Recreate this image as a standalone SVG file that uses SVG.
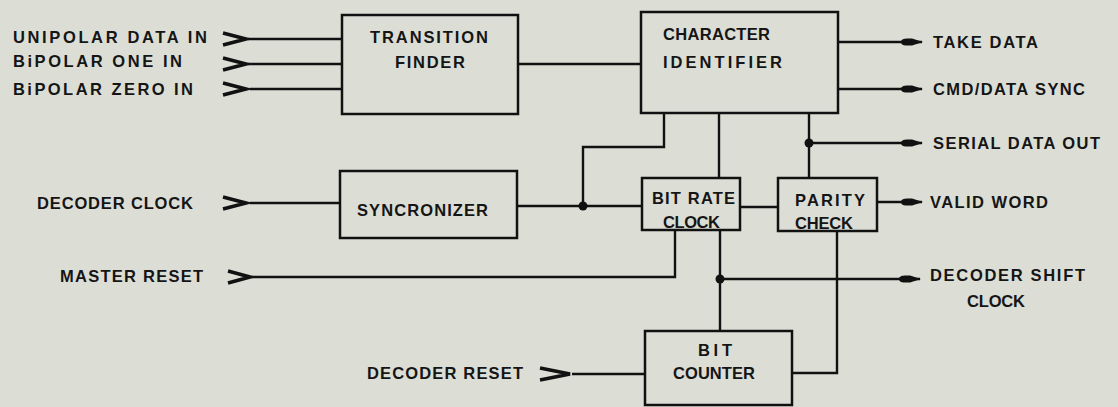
<svg xmlns="http://www.w3.org/2000/svg" width="1118" height="407" viewBox="0 0 1118 407">
<defs>
<style>
.bg{fill:#dcded6}
.box{fill:none;stroke:#111;stroke-width:2.5}
.ln{fill:none;stroke:#111;stroke-width:2.4;stroke-linejoin:miter}
.chev{fill:none;stroke:#111;stroke-width:3.6;stroke-linejoin:miter}
.dot{fill:#111}
text{font-family:"Liberation Sans","DejaVu Sans",sans-serif;font-size:16.5px;font-weight:bold;fill:#151515}
</style>
<marker id="arr" viewBox="0 0 22 10" refX="21" refY="5" markerWidth="22" markerHeight="10" orient="auto" markerUnits="userSpaceOnUse">
<path d="M0,5 C0,1 6,1.2 11,1.6 L22,5 L11,8.4 C6,8.8 0,9 0,5 Z" fill="#111"/>
</marker>
</defs>
<rect class="bg" x="0" y="0" width="1118" height="407"/>

<g id="labels-in">
<text x="13" y="43" textLength="194" lengthAdjust="spacing">UNIPOLAR DATA IN</text>
<text x="13" y="67" textLength="169" lengthAdjust="spacing">BiPOLAR ONE IN</text>
<text x="13" y="95" textLength="180" lengthAdjust="spacing">BiPOLAR ZERO IN</text>
<text x="37" y="209" textLength="156" lengthAdjust="spacing">DECODER CLOCK</text>
<text x="60" y="282" textLength="143" lengthAdjust="spacing">MASTER RESET</text>
<text x="367" y="379" textLength="156" lengthAdjust="spacing">DECODER RESET</text>
</g>

<g id="labels-out">
<text x="933" y="48" textLength="105" lengthAdjust="spacing">TAKE DATA</text>
<text x="933" y="95" textLength="152" lengthAdjust="spacing">CMD/DATA SYNC</text>
<text x="933" y="149" textLength="167" lengthAdjust="spacing">SERIAL DATA OUT</text>
<text x="930" y="208" textLength="118" lengthAdjust="spacing">VALID WORD</text>
<text x="930" y="281" textLength="155" lengthAdjust="spacing">DECODER SHIFT</text>
<text x="967" y="307" textLength="58" lengthAdjust="spacing">CLOCK</text>
</g>

<g id="transition-finder">
<rect class="box" x="342" y="15" width="176" height="99"/>
<text x="370" y="43" textLength="118" lengthAdjust="spacing">TRANSITION</text>
<text x="395" y="68" textLength="70" lengthAdjust="spacing">FINDER</text>
</g>

<g id="character-identifier">
<rect class="box" x="641" y="12" width="197" height="101"/>
<text x="663" y="40" textLength="107" lengthAdjust="spacing">CHARACTER</text>
<text x="663" y="68" textLength="119" lengthAdjust="spacing">IDENTIFIER</text>
</g>

<g id="syncronizer">
<rect class="box" x="340" y="171" width="177" height="67"/>
<text x="357" y="216" textLength="131" lengthAdjust="spacing">SYNCRONIZER</text>
</g>

<g id="bit-rate-clock">
<rect class="box" x="642" y="178" width="98" height="52"/>
<text x="652" y="204" textLength="83" lengthAdjust="spacing">BIT RATE</text>
<text x="663" y="228" textLength="57" lengthAdjust="spacing">CLOCK</text>
</g>

<g id="parity-check">
<rect class="box" x="778" y="178" width="99" height="53"/>
<text x="795" y="206" textLength="70" lengthAdjust="spacing">PARITY</text>
<text x="795" y="229" textLength="58" lengthAdjust="spacing">CHECK</text>
</g>

<g id="bit-counter">
<rect class="box" x="645" y="331" width="147" height="74"/>
<text x="698" y="356" textLength="34" lengthAdjust="spacing">BIT</text>
<text x="673" y="379" textLength="82" lengthAdjust="spacing">COUNTER</text>
</g>

<g id="connectors">
<path class="chev" d="M223,33 L246,39 L223,45"/>
<path class="chev" d="M223,58 L246,64 L223,70"/>
<path class="chev" d="M223,83 L246,89 L223,95"/>
<path class="chev" d="M223,197 L246,203 L223,209"/>
<path class="chev" d="M228,271 L250,277 L228,283"/>
<path class="chev" d="M540,368 L570,374 L540,380"/>
<path class="ln" d="M248,39 H342"/>
<path class="ln" d="M248,64 H342"/>
<path class="ln" d="M250,89 H342"/>
<path class="ln" d="M250,203 H340"/>
<path class="ln" d="M252,277 H675 V230"/>
<path class="ln" d="M572,374 H645"/>
<path class="ln" d="M518,64 H641"/>
<path class="ln" d="M838,42 H922" marker-end="url(#arr)"/>
<path class="ln" d="M838,89 H922" marker-end="url(#arr)"/>
<path class="ln" d="M809,113 V178"/>
<path class="ln" d="M809,143 H922" marker-end="url(#arr)"/>
<path class="ln" d="M664,113 V147 H583 V206"/>
<path class="ln" d="M719,113 V178"/>
<path class="ln" d="M517,206 H642"/>
<path class="ln" d="M740,207 H778"/>
<path class="ln" d="M877,202 H922" marker-end="url(#arr)"/>
<path class="ln" d="M720,230 V331"/>
<path class="ln" d="M720,279 H920" marker-end="url(#arr)"/>
<path class="ln" d="M792,373 H837 V231"/>
<circle class="dot" cx="583" cy="206" r="4.5"/>
<circle class="dot" cx="809" cy="143" r="4.5"/>
<circle class="dot" cx="720" cy="279" r="4.5"/>
</g>
</svg>
